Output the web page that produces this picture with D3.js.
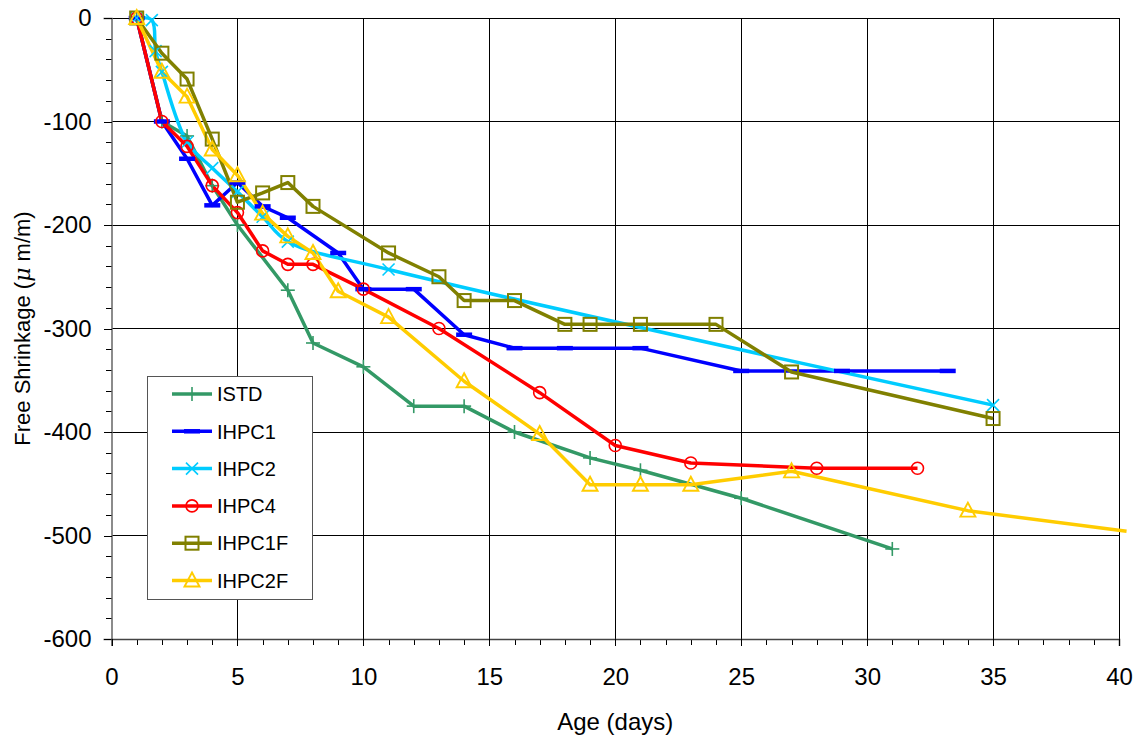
<!DOCTYPE html>
<html><head><meta charset="utf-8">
<script src="https://cdn.jsdelivr.net/npm/d3@7"></script>
<style>
html,body{margin:0;padding:0;background:#fff;}
svg{display:block;font-family:"Liberation Sans",Arial,sans-serif;}
</style></head>
<body>
<svg id="chart" width="1142" height="742"></svg>
<script>
// ---- data ----
const seriesNames = ["ISTD","IHPC1","IHPC2","IHPC4","IHPC1F","IHPC2F"];
const istdDays   = [1,2,3,4,5,7,8,10,12,14,16,19,21,25,31];
const istdVals   = [0,-100,-114,-162,-200,-263,-314,-337,-375,-375,-400,-425,-437,-464,-513];
const ihpc1Days  = [1,2,3,4,5,6,7,9,10,12,14,16,18,21,25,29,33.2];
const ihpc1Vals  = [0,-100,-136,-181,-159,-182,-193,-227,-262,-262,-306,-319,-319,-319,-341,-341,-341];
const ihpc2Days  = [1,1.6,1.75,2,3,4,5,6,7,11,35];
const ihpc2Vals  = [0,-2,-32,-52,-120,-145,-168,-192,-216,-243,-374];
const ihpc4Days  = [1,2,3,4,5,6,7,8,10,13,17,20,23,28,32];
const ihpc4Vals  = [0,-100,-124,-162,-188,-225,-238,-238,-262,-300,-362,-413,-430,-435,-435];
const ihpc1fDays = [1,2,3,4,5,6,7,8,11,13,14,16,18,19,21,24,27,35];
const ihpc1fVals = [0,-34,-59,-117,-178,-169,-159,-182,-227,-250,-273,-273,-296,-296,-296,-296,-342,-387];
const ihpc2fDays = [1,2,3,4,5,6,7,8,9,11,14,17,19,21,23,27,34,40.3];
const ihpc2fVals = [0,-52,-76,-127,-152,-189,-211,-227,-264,-289,-351,-402,-451,-451,-451,-438,-476,-496];
const xTicks = [0,5,10,15,20,25,30,35,40];
const yTicks = [0,-100,-200,-300,-400,-500,-600];
const xLabel = "Age (days)";

const colors  = ["#339966","#0000ff","#00ccff","#ff0000","#808000","#ffcc00"];
const markers = ["plus","dash","cross","circle","square","triangle"];
const smooth  = [false,false,true,false,false,false];
const lastMarkerShown = [true,true,true,true,true,false];

const allDays = [istdDays,ihpc1Days,ihpc2Days,ihpc4Days,ihpc1fDays,ihpc2fDays];
const allVals = [istdVals,ihpc1Vals,ihpc2Vals,ihpc4Vals,ihpc1fVals,ihpc2fVals];
const series = seriesNames.map((n,i)=>({name:n,color:colors[i],marker:markers[i],smooth:smooth[i],
  pts:allDays[i].map((d,j)=>({x:d,y:allVals[i][j]})), lastMarker:lastMarkerShown[i]}));

// ---- layout ----
const svg = d3.select("#chart");
const L=111.5, R=1119, T=18, B=639;
const x = d3.scaleLinear().domain([0,40]).range([L,R]);
const y = d3.scaleLinear().domain([-600,0]).range([B,T]);

// gridlines
const grid = svg.append("g").attr("shape-rendering","crispEdges");
grid.selectAll(".hg").data(yTicks.filter(v=>v>-600)).enter().append("line")
  .attr("x1",L).attr("x2",R).attr("y1",d=>y(d)).attr("y2",d=>y(d))
  .attr("stroke","#000").attr("stroke-width",1);
grid.selectAll(".vg").data(xTicks.filter(v=>v>0)).enter().append("line")
  .attr("x1",d=>x(d)).attr("x2",d=>x(d)).attr("y1",T).attr("y2",B)
  .attr("stroke","#000").attr("stroke-width",1);

// minor ticks
const yMinor = d3.range(-600,1,20).filter(v=>v%100!==0);
const xMinor = d3.range(0,41,1).filter(v=>v%5!==0);
svg.append("g").attr("transform",`translate(${L},0)`)
  .call(d3.axisLeft(y).tickValues(yMinor).tickSize(6).tickFormat(""))
  .call(g=>g.select(".domain").remove())
  .call(g=>g.selectAll("line").attr("stroke","#000").attr("shape-rendering","crispEdges"));
svg.append("g").attr("transform",`translate(0,${B})`)
  .call(d3.axisBottom(x).tickValues(xMinor).tickSize(6).tickFormat(""))
  .call(g=>g.select(".domain").remove())
  .call(g=>g.selectAll("line").attr("stroke","#000").attr("shape-rendering","crispEdges"));

// major axes
const yAxis = svg.append("g").attr("transform",`translate(${L},0)`)
  .call(d3.axisLeft(y).tickValues(yTicks).tickSize(8).tickPadding(12).tickFormat(d3.format("d")));
yAxis.select(".domain").attr("stroke","#666").attr("stroke-width",1.5);
yAxis.selectAll("line").attr("stroke","#000").attr("shape-rendering","crispEdges");
yAxis.selectAll("text").attr("font-size",24).attr("fill","#000")
  .attr("font-family","Liberation Sans, Arial, sans-serif").text(d=>String(d).replace("\u2212","-"));

const xAxis = svg.append("g").attr("transform",`translate(0,${B})`)
  .call(d3.axisBottom(x).tickValues(xTicks).tickSize(7).tickPadding(22).tickFormat(d3.format("d")));
xAxis.select(".domain").attr("stroke","#444").attr("stroke-width",1.5);
xAxis.selectAll("line").attr("stroke","#000").attr("shape-rendering","crispEdges");
xAxis.selectAll("text").attr("font-size",24).attr("fill","#000")
  .attr("font-family","Liberation Sans, Arial, sans-serif");

// axis titles
svg.append("text").attr("x",(L+R)/2).attr("y",730).attr("text-anchor","middle")
  .attr("font-size",24).text(xLabel);
const yt = svg.append("text").attr("transform",`translate(30,${(T+B)/2}) rotate(-90)`)
  .attr("text-anchor","middle").attr("font-size",22);
yt.append("tspan").text("Free Shrinkage (");
yt.append("tspan").attr("font-style","italic").attr("font-family","DejaVu Serif, serif").text("\u03bc");
yt.append("tspan").text(" m/m)");

// marker drawer
function drawMarker(g, type, color){
  const sw=1.6;
  if(type==="plus"){
    g.append("line").attr("x1",-7).attr("x2",7).attr("stroke",color).attr("stroke-width",sw);
    g.append("line").attr("y1",-7).attr("y2",7).attr("stroke",color).attr("stroke-width",sw);
  } else if(type==="dash"){
    g.append("line").attr("x1",-8).attr("x2",8).attr("stroke",color).attr("stroke-width",4.5);
  } else if(type==="cross"){
    g.append("line").attr("x1",-6).attr("x2",6).attr("y1",-6).attr("y2",6).attr("stroke",color).attr("stroke-width",sw);
    g.append("line").attr("x1",-6).attr("x2",6).attr("y1",6).attr("y2",-6).attr("stroke",color).attr("stroke-width",sw);
  } else if(type==="circle"){
    g.append("circle").attr("r",6).attr("fill","none").attr("stroke",color).attr("stroke-width",sw);
  } else if(type==="square"){
    g.append("rect").attr("x",-6.5).attr("y",-6.5).attr("width",13).attr("height",13)
      .attr("fill","none").attr("stroke",color).attr("stroke-width",sw+0.4);
  } else if(type==="triangle"){
    g.append("path").attr("d","M0,-8L7.5,6L-7.5,6Z").attr("fill","none").attr("stroke",color).attr("stroke-width",sw+0.3);
  }
}

// series
const plot = svg.append("g");
series.forEach(s=>{
  const line = d3.line().x(d=>x(d.x)).y(d=>y(d.y))
    .curve(s.smooth ? d3.curveCatmullRom.alpha(0.5) : d3.curveLinear);
  plot.append("path").datum(s.pts).attr("d",line).attr("fill","none")
    .attr("stroke",s.color).attr("stroke-width",3.5).attr("stroke-linejoin","round");
});
series.forEach(s=>{
  const pts = s.lastMarker ? s.pts : s.pts.slice(0,-1);
  pts.forEach(p=>{
    const g = plot.append("g").attr("transform",`translate(${x(p.x)},${y(p.y)})`);
    drawMarker(g,s.marker,s.color);
  });
});

// legend
const lg = svg.append("g");
lg.append("rect").attr("x",147).attr("y",376).attr("width",165).attr("height",223)
  .attr("fill","#fff").attr("stroke","#555").attr("stroke-width",1).attr("shape-rendering","crispEdges");
series.forEach((s,i)=>{
  const yy = 394 + i*37.3;
  lg.append("line").attr("x1",172).attr("x2",212).attr("y1",yy).attr("y2",yy)
    .attr("stroke",s.color).attr("stroke-width",3.5);
  const g = lg.append("g").attr("transform",`translate(192,${yy})`);
  drawMarker(g,s.marker,s.color);
  lg.append("text").attr("x",217).attr("y",yy).attr("dy","0.36em").attr("font-size",20).text(s.name);
});
</script>
</body></html>
